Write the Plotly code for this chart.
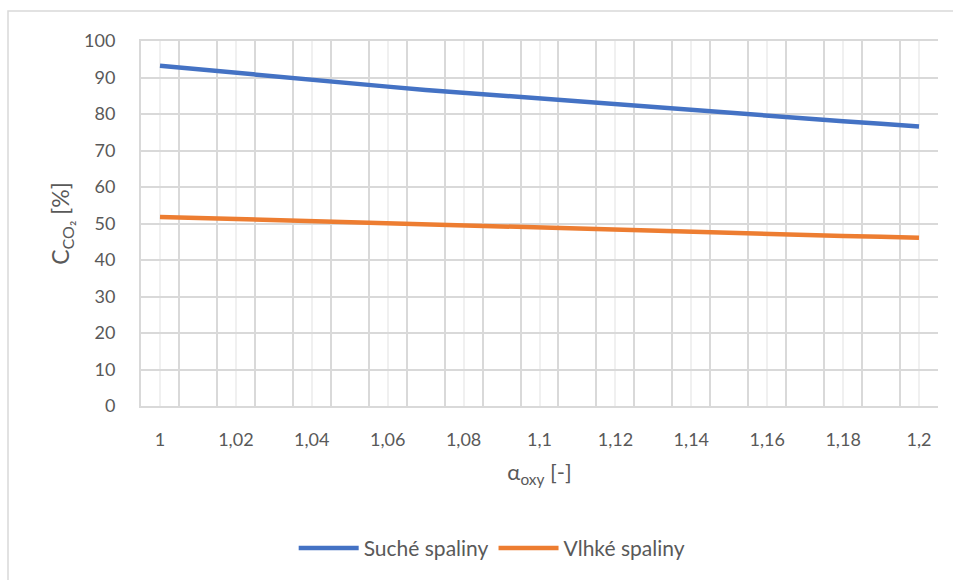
import plotly.graph_objects as go

alpha = [1.00, 1.01, 1.02, 1.03, 1.04, 1.05, 1.06, 1.07, 1.08, 1.09, 1.10,
         1.11, 1.12, 1.13, 1.14, 1.15, 1.16, 1.17, 1.18, 1.19, 1.20]
suche = [93.2, 92.2, 91.2, 90.3, 89.3, 88.4, 87.5, 86.6, 85.8, 84.9, 84.1,
         83.3, 82.5, 81.7, 80.9, 80.2, 79.4, 78.7, 78.0, 77.3, 76.6]
vlhke = [51.8, 51.5, 51.2, 50.9, 50.6, 50.3, 50.0, 49.7, 49.4, 49.1, 48.8,
         48.5, 48.2, 48.0, 47.7, 47.4, 47.1, 46.9, 46.6, 46.4, 46.1]
series_names = ["Suché spaliny", "Vlhké spaliny"]
colors = ["#4472C4", "#ED7D31"]
y_ticks = list(range(0, 101, 10))

step = round(alpha[1] - alpha[0], 6)
label_vals = alpha[::2]
label_text = [f"{v:g}".replace(".", ",") for v in label_vals]
odd_centers = alpha[1::2]
boundaries = [round(alpha[0] - step / 2 + i * step, 6) for i in range(len(alpha) + 1)]

FONT = "Lato, Carlito, Calibri, sans-serif"
GREY = "#595959"

fig = go.Figure()
for name, vals, col in zip(series_names, [suche, vlhke], colors):
    fig.add_trace(go.Scatter(x=alpha, y=vals, mode="lines", name=name,
                             line=dict(color=col, width=4.5)))

W, H = 953, 580
ml, mr, mt, mb = 141, 15, 41, 173
pw, ph = W - ml - mr, H - mt - mb

fig.update_layout(
    width=W, height=H,
    margin=dict(l=ml, r=mr, t=mt, b=mb),
    paper_bgcolor="white", plot_bgcolor="white",
    font=dict(family=FONT, color=GREY, size=18),
    showlegend=True,
    legend=dict(orientation="h", x=0.44, xanchor="center", y=-0.33, yanchor="top",
                font=dict(size=21, color=GREY), itemwidth=60, tracegroupgap=0),
    xaxis=dict(
        range=[boundaries[0], boundaries[-1]],
        tickmode="array", tickvals=label_vals, ticktext=label_text,
        showgrid=True, gridcolor="#F0F0F0", gridwidth=2,
        ticks="", ticklabelstandoff=16,
        showline=True, linecolor="#D9D9D9", linewidth=2, mirror=True,
        zeroline=False,
        minor=dict(tickmode="array", tickvals=boundaries, showgrid=True,
                   gridcolor="#D9D9D9", gridwidth=2, ticks=""),
        title=dict(text="α<sub>oxy</sub> [-]", font=dict(size=22, color=GREY), standoff=16),
    ),
    xaxis2=dict(
        overlaying="x", matches="x", anchor="y",
        tickmode="array", tickvals=odd_centers, showticklabels=False,
        showgrid=True, gridcolor="#F0F0F0", gridwidth=2, ticks="",
        showline=False, zeroline=False,
    ),
    yaxis=dict(
        range=[0, 100], tickmode="array", tickvals=y_ticks,
        showgrid=True, gridcolor="#D9D9D9", gridwidth=2,
        showline=True, linecolor="#D9D9D9", linewidth=2,
        zeroline=False, ticks="", ticklabelstandoff=20,
        title=dict(text="C<sub>CO₂</sub> [%]", font=dict(size=23, color=GREY), standoff=8),
    ),
    shapes=[dict(type="rect", xref="paper", yref="paper", layer="below",
                 x0=(8 - ml) / pw, x1=(W + 5 - ml) / pw,
                 y0=(H - mb - (H + 5)) / ph, y1=(H - mb - 11) / ph,
                 line=dict(color="#D9D9D9", width=1.5), fillcolor="rgba(0,0,0,0)")],
)

fig.write_html("out.html")
